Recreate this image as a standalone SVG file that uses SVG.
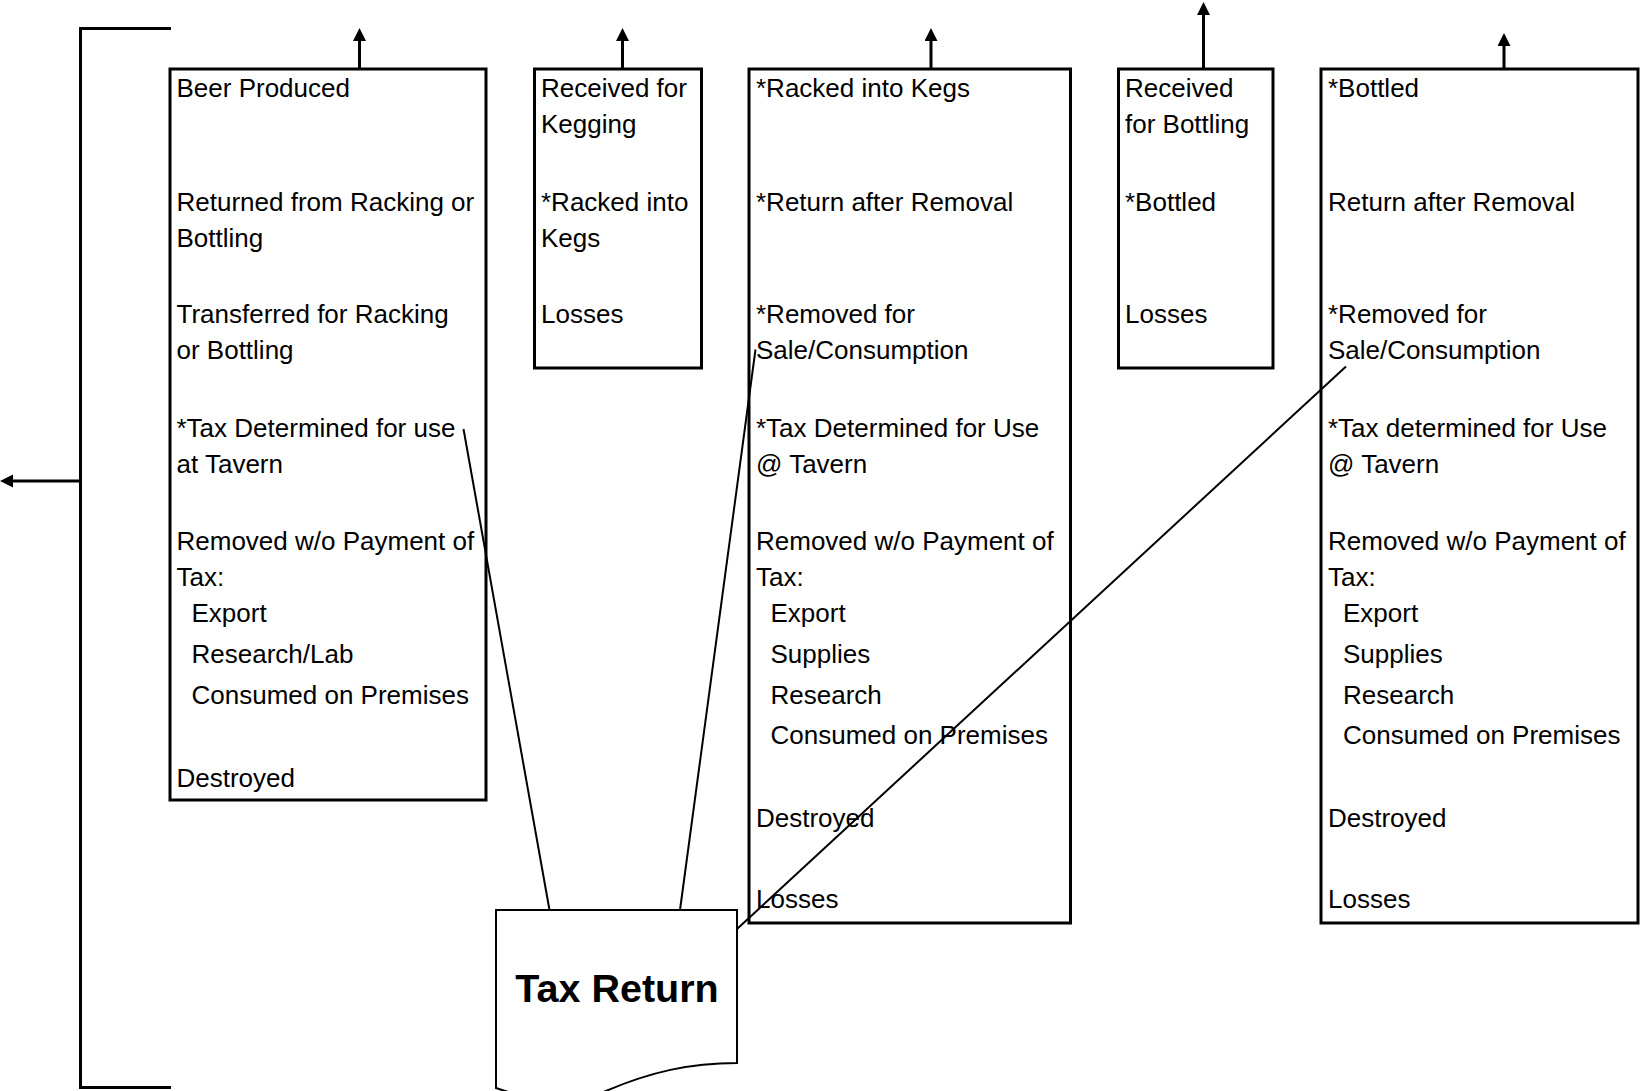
<svg xmlns="http://www.w3.org/2000/svg" width="1644" height="1091" viewBox="0 0 1644 1091">
<style>
.bg{fill:#ffffff}
.box{fill:none;stroke:#000;stroke-width:3}
.doc{fill:#fff;stroke:#000;stroke-width:2}
.t{font-family:"Liberation Sans",Arial,sans-serif;font-size:26px;fill:#000}
.title{font-family:"Liberation Sans",Arial,sans-serif;font-size:39.5px;font-weight:bold;fill:#000;text-anchor:middle}
.arr{fill:none;stroke:#000;stroke-width:3;marker-end:url(#head)}
.brk{fill:none;stroke:#000;stroke-width:3}
.lnk{fill:none;stroke:#000;stroke-width:2}
</style>
<defs>
<marker id="head" markerUnits="userSpaceOnUse" markerWidth="14" markerHeight="14" refX="0" refY="6.5" orient="auto">
<path d="M0,0 L13,6.5 L0,13 z" fill="#000"/>
</marker>
</defs>
<rect class="bg" x="0" y="0" width="1644" height="1091"/>

<g id="node-beer-produced">
<rect class="box" x="170" y="69" width="316" height="731"/>
<text class="t" x="176.5" y="96.7">Beer Produced</text>
<text class="t" x="176.5" y="210.7">Returned from Racking or</text>
<text class="t" x="176.5" y="246.7">Bottling</text>
<text class="t" x="176.5" y="323.3">Transferred for Racking</text>
<text class="t" x="176.5" y="359.3">or Bottling</text>
<text class="t" x="176.5" y="436.7">*Tax Determined for use</text>
<text class="t" x="176.5" y="473.3">at Tavern</text>
<text class="t" x="176.5" y="550">Removed w/o Payment of</text>
<text class="t" x="176.5" y="586">Tax:</text>
<text class="t" x="191.5" y="622">Export</text>
<text class="t" x="191.5" y="663.3">Research/Lab</text>
<text class="t" x="191.5" y="704">Consumed on Premises</text>
<text class="t" x="176.5" y="786.7">Destroyed</text>
</g>

<g id="node-received-kegging">
<rect class="box" x="534.5" y="69" width="167" height="299"/>
<text class="t" x="541" y="96.7">Received for</text>
<text class="t" x="541" y="132.7">Kegging</text>
<text class="t" x="541" y="210.7">*Racked into</text>
<text class="t" x="541" y="246.7">Kegs</text>
<text class="t" x="541" y="323.3">Losses</text>
</g>

<g id="node-racked-kegs">
<rect class="box" x="749" y="69" width="321.5" height="854"/>
<text class="t" x="756" y="96.7">*Racked into Kegs</text>
<text class="t" x="756" y="210.7">*Return after Removal</text>
<text class="t" x="756" y="323.3">*Removed for</text>
<text class="t" x="756" y="359.3">Sale/Consumption</text>
<text class="t" x="756" y="436.7">*Tax Determined for Use</text>
<text class="t" x="756" y="473.3">@ Tavern</text>
<text class="t" x="756" y="550">Removed w/o Payment of</text>
<text class="t" x="756" y="586">Tax:</text>
<text class="t" x="770.5" y="622">Export</text>
<text class="t" x="770.5" y="663.3">Supplies</text>
<text class="t" x="770.5" y="704">Research</text>
<text class="t" x="770.5" y="744">Consumed on Premises</text>
<text class="t" x="756" y="827.3">Destroyed</text>
<text class="t" x="756" y="908.3">Losses</text>
</g>

<g id="node-received-bottling">
<rect class="box" x="1118.5" y="69" width="154.5" height="299"/>
<text class="t" x="1125" y="96.7">Received</text>
<text class="t" x="1125" y="132.7">for Bottling</text>
<text class="t" x="1125" y="210.7">*Bottled</text>
<text class="t" x="1125" y="323.3">Losses</text>
</g>

<g id="node-bottled">
<rect class="box" x="1321" y="69" width="317" height="854"/>
<text class="t" x="1328" y="96.7">*Bottled</text>
<text class="t" x="1328" y="210.7">Return after Removal</text>
<text class="t" x="1328" y="323.3">*Removed for</text>
<text class="t" x="1328" y="359.3">Sale/Consumption</text>
<text class="t" x="1328" y="436.7">*Tax determined for Use</text>
<text class="t" x="1328" y="473.3">@ Tavern</text>
<text class="t" x="1328" y="550">Removed w/o Payment of</text>
<text class="t" x="1328" y="586">Tax:</text>
<text class="t" x="1343" y="622">Export</text>
<text class="t" x="1343" y="663.3">Supplies</text>
<text class="t" x="1343" y="704">Research</text>
<text class="t" x="1343" y="744">Consumed on Premises</text>
<text class="t" x="1328" y="827.3">Destroyed</text>
<text class="t" x="1328" y="908.3">Losses</text>
</g>

<g id="node-tax-return">
<path class="doc" d="M496,910 H737 V1063 C690,1063 650,1072 606,1091 C570,1106 530,1100 496,1088 Z"/>
<text class="title" x="617" y="1002">Tax Return</text>
</g>

<g id="connectors">
<polyline class="brk" points="171,28.5 80.5,28.5 80.5,1087.5 171,1087.5"/>
<line class="arr" x1="80.5" y1="481" x2="13" y2="481"/>
<line class="arr" x1="359.5" y1="69" x2="359.5" y2="41"/>
<line class="arr" x1="622.5" y1="69" x2="622.5" y2="41"/>
<line class="arr" x1="931" y1="69" x2="931" y2="41"/>
<line class="arr" x1="1203.5" y1="69" x2="1203.5" y2="15"/>
<line class="arr" x1="1504" y1="69" x2="1504" y2="46"/>
<line class="lnk" x1="463.5" y1="429" x2="549.5" y2="910"/>
<line class="lnk" x1="755.5" y1="349.5" x2="680" y2="910"/>
<line class="lnk" x1="1346" y1="366.5" x2="737" y2="929"/>
</g>
</svg>
